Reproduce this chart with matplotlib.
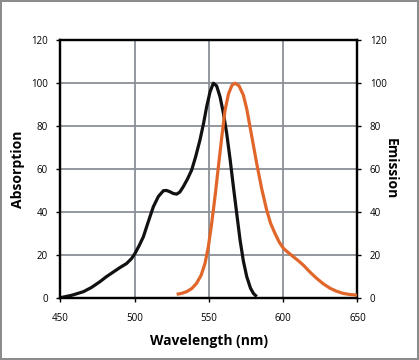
import matplotlib
matplotlib.use("Agg")
import matplotlib.pyplot as plt

# Absorption spectrum (black)
abs_wl = [450, 458, 465.5, 471, 476.7, 481, 485.7, 490, 494.7, 498, 500.3, 503,
          505.9, 509, 512.6, 516, 519.4, 521.5, 523.8, 526, 528.3, 530.5, 532.8,
          535.5, 538.4, 541, 544, 546.5, 548.5, 550.8, 553, 555.2, 557.5, 559.8,
          562, 564.3, 566.5, 568.8, 571, 573.2, 575.5, 578, 580, 582.2]
abs_val = [0, 1.2, 2.8, 4.8, 7.5, 9.8, 12, 14, 16, 18.3, 20.7, 24.2,
           28.4, 35, 42.4, 47.2, 49.9, 50, 49.4, 48.6, 48.3, 49.3, 51.8,
           55.2, 59.5, 65.5, 73.5, 81.5, 89, 96, 100, 98.8, 93.7, 86,
           76.6, 64.5, 51.8, 39, 26.9, 17.2, 9.8, 4.5, 2, 0.5]

# Emission spectrum (orange)
em_wl = [528.3, 531.5, 535, 538.5, 541.7, 544.8, 547.4, 549.7, 551.9, 554.2,
         556.4, 558.7, 560.9, 563.2, 565.5, 567.6, 570.3, 573.2, 575.5, 577.7,
         580, 582.2, 585.5, 588.9, 591.5, 594.5, 597.3, 600.2, 603.5, 606.9,
         610.3, 613.6, 618, 622.6, 627, 631.6, 636, 640.5, 645, 650]
em_val = [1.6, 2.0, 2.8, 4.3, 6.7, 10.5, 16, 24, 34.7, 47.5,
          61, 75, 87.5, 95, 99, 100, 98.8, 94.5, 88, 79.7,
          71, 62.6, 51, 40.9, 34.8, 30, 26, 23, 21, 19.1,
          17.2, 15.2, 12, 9, 6.5, 4.4, 3, 2, 1.5, 1.2]

x_ticks = [450, 500, 550, 600, 650]
y_ticks = [0, 20, 40, 60, 80, 100, 120]

plt.rcParams["font.family"] = ["Open Sans", "DejaVu Sans"]

fig = plt.figure(figsize=(4.19, 3.6), dpi=100)
fig.patch.set_edgecolor("#8c8c8c")
fig.patch.set_linewidth(1.5)
ax = fig.add_axes([0.144, 0.173, 0.709, 0.715])

ax.plot(abs_wl, abs_val, color="#111111", lw=2.3, solid_capstyle="butt", zorder=3)
ax.set_xlim(450, 650)
ax.set_ylim(0, 120)
ax.set_xticks(x_ticks)
ax.set_yticks(y_ticks)
ax.grid(True, color="#8a9096", lw=1.3)
ax.set_axisbelow(True)
for s in ax.spines.values():
    s.set_linewidth(1.6)
    s.set_color("black")
ax.tick_params(axis="y", direction="out", length=3, width=1, pad=6, labelsize=7, colors="black")
ax.tick_params(axis="x", direction="out", length=3, width=1, pad=8, labelsize=7)
ax.set_ylabel("Absorption", fontsize=10, fontweight="bold", labelpad=4)
ax.set_xlabel("Wavelength (nm)", fontsize=10, fontweight="bold", labelpad=7)

ax2 = ax.twinx()
ax2.plot(em_wl, em_val, color="#e0662a", lw=2.3, solid_capstyle="butt", zorder=3)
ax2.set_ylim(0, 120)
ax2.set_yticks(y_ticks)
ax2.tick_params(axis="y", direction="out", length=3, width=1, pad=6, labelsize=7)
ax2.set_ylabel("Emission", fontsize=10, fontweight="bold", rotation=270, labelpad=8)
for s in ax2.spines.values():
    s.set_linewidth(1.6)

fig.savefig("out.png", dpi=100, edgecolor=fig.get_edgecolor())
